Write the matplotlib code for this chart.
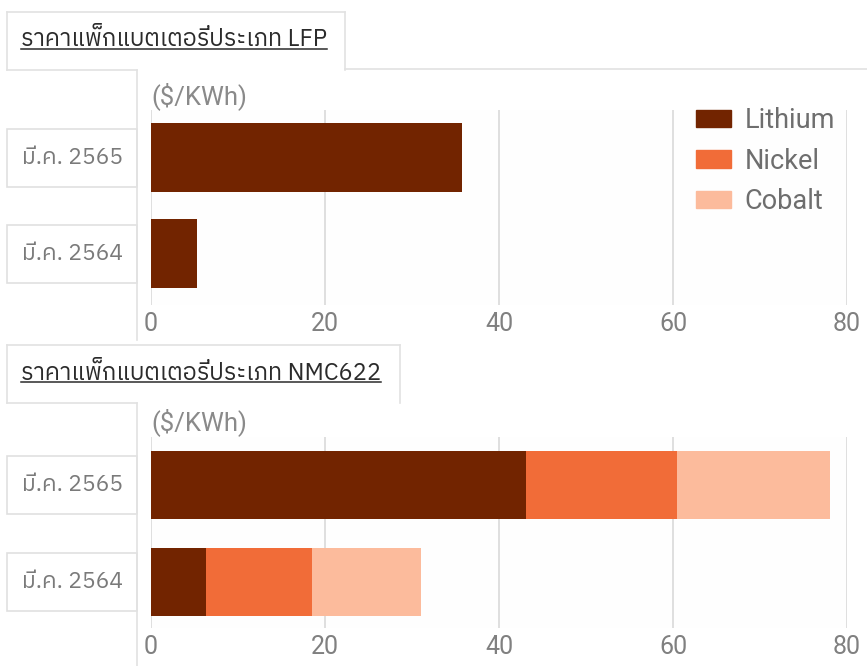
import matplotlib
matplotlib.use("Agg")
import matplotlib.pyplot as plt
from matplotlib.patches import Rectangle
from matplotlib.lines import Line2D

# ---------------- data ----------------
categories = ["มี.ค. 2564", "มี.ค. 2565"]
series_names = ["Lithium", "Nickel", "Cobalt"]
lfp_lithium = [5.3, 35.7]
nmc_lithium = [6.3, 43.1]
nmc_nickel = [12.2, 17.4]
nmc_cobalt = [12.5, 17.5]
x_ticks = [0, 20, 40, 60, 80]
title_lfp = "ราคาแพ็กแบตเตอรี่ประเภท LFP"
title_nmc = "ราคาแพ็กแบตเตอรี่ประเภท NMC622"
unit_label = "($/KWh)"

colors = {"Lithium": "#722400", "Nickel": "#f16c38", "Cobalt": "#fcbb9c"}

THAI = ["IBM Plex Sans Thai", "DejaVu Sans"]
LATIN = ["Roboto", "DejaVu Sans"]

W, H = 867, 666
fig = plt.figure(figsize=(W / 100, H / 100), dpi=100)
fig.patch.set_facecolor("white")


def fx(px):
    return px / W


def fy(py):
    return 1 - py / H


def frame_line(x0, y0, x1, y1, color="#e2e2e2", lw=1.2):
    fig.add_artist(Line2D([fx(x0), fx(x1)], [fy(y0), fy(y1)],
                          transform=fig.transFigure, color=color, lw=lw))


def make_panel(ax_top, ax_bot, ylim, title, title_top, title_bot, title_right, unit_y):
    ax = fig.add_axes([fx(151), fy(ax_bot), fx(847) - fx(151), fy(ax_top) - fy(ax_bot)])
    ax.set_xlim(0, 80)
    ax.set_ylim(*ylim)
    ax.set_facecolor("#fefefe")
    for s in ax.spines.values():
        s.set_visible(False)
    ax.set_xticks(x_ticks)
    ax.set_xticklabels([str(t) for t in x_ticks], family=LATIN, fontsize=18, color="#808080")
    ax.tick_params(axis="x", length=0, pad=5)
    ax.set_yticks([])
    ax.grid(axis="x", color="#dcdcdc", lw=1.3)
    ax.set_axisbelow(True)

    # title tab
    frame_line(7, title_top, title_right, title_top)
    frame_line(7, title_top, 7, title_bot)
    frame_line(title_right, title_top, title_right, title_bot)
    frame_line(7, title_bot, 137, title_bot)
    t = fig.text(fx(21), fy((title_top + title_bot) / 2 - 1), title, family=THAI,
                 fontsize=17, color="#2b2b2b", va="center", ha="left")
    # unit label
    fig.text(fx(151), fy(unit_y), unit_label, family=LATIN, fontsize=18.5,
             color="#8a8a8a", va="center", ha="left")
    return ax, t


W_BAR = 0.71

# ---------------- top panel (LFP) ----------------
ax1, t1 = make_panel(110, 305, (-0.536, 1.495), title_lfp, 12, 70, 345, 96)
frame_line(345, 69, 867, 69)
frame_line(137, 70, 137, 340)
ypos = list(range(len(categories)))
ax1.barh(ypos, lfp_lithium, height=W_BAR, color=colors["Lithium"], label="Lithium")
# legend entries for all series
handles = [Rectangle((0, 0), 1, 1, color=colors[n]) for n in series_names]
leg = ax1.legend(handles, series_names, loc="upper left",
                 bbox_to_anchor=(fx(696), fy(107)), bbox_transform=fig.transFigure,
                 frameon=False, prop={"family": LATIN, "size": 19.5},
                 handlelength=1.3, handleheight=0.62, handletextpad=0.5,
                 labelspacing=0.5, borderpad=0, borderaxespad=0)
for txt in leg.get_texts():
    txt.set_color("#6e6e6e")

# ---------------- bottom panel (NMC622) ----------------
ax2, t2 = make_panel(437, 628, (-0.474, 1.495), title_nmc, 345, 403, 400, 422)
frame_line(137, 403, 137, 666)
left = [0.0] * len(categories)
for name, vals in zip(series_names, [nmc_lithium, nmc_nickel, nmc_cobalt]):
    ax2.barh(ypos, vals, left=left, height=W_BAR, color=colors[name])
    left = [a + b for a, b in zip(left, vals)]

# category label boxes
for ax in (ax1, ax2):
    for i, c in enumerate(categories):
        yc_fig = fig.transFigure.inverted().transform(ax.transData.transform((0, i)))[1]
        h = 58 / H
        fig.add_artist(Rectangle((fx(7), yc_fig - h / 2), fx(137) - fx(7), h,
                                 transform=fig.transFigure, facecolor="white",
                                 edgecolor="#e0e0e0", lw=1.2))
        fig.text(fx(123), yc_fig, c, family=THAI, fontsize=16.5, color="#7a7a7a",
                 ha="right", va="center")

# underline titles
fig.canvas.draw()
r = fig.canvas.get_renderer()
for t in (t1, t2):
    bb = t.get_window_extent(r).transformed(fig.transFigure.inverted())
    y = bb.y0 + 3 / H
    fig.add_artist(Line2D([bb.x0, bb.x1], [y, y], transform=fig.transFigure,
                          color="#2b2b2b", lw=1.1))

fig.savefig("out.png", dpi=100, facecolor="white")
